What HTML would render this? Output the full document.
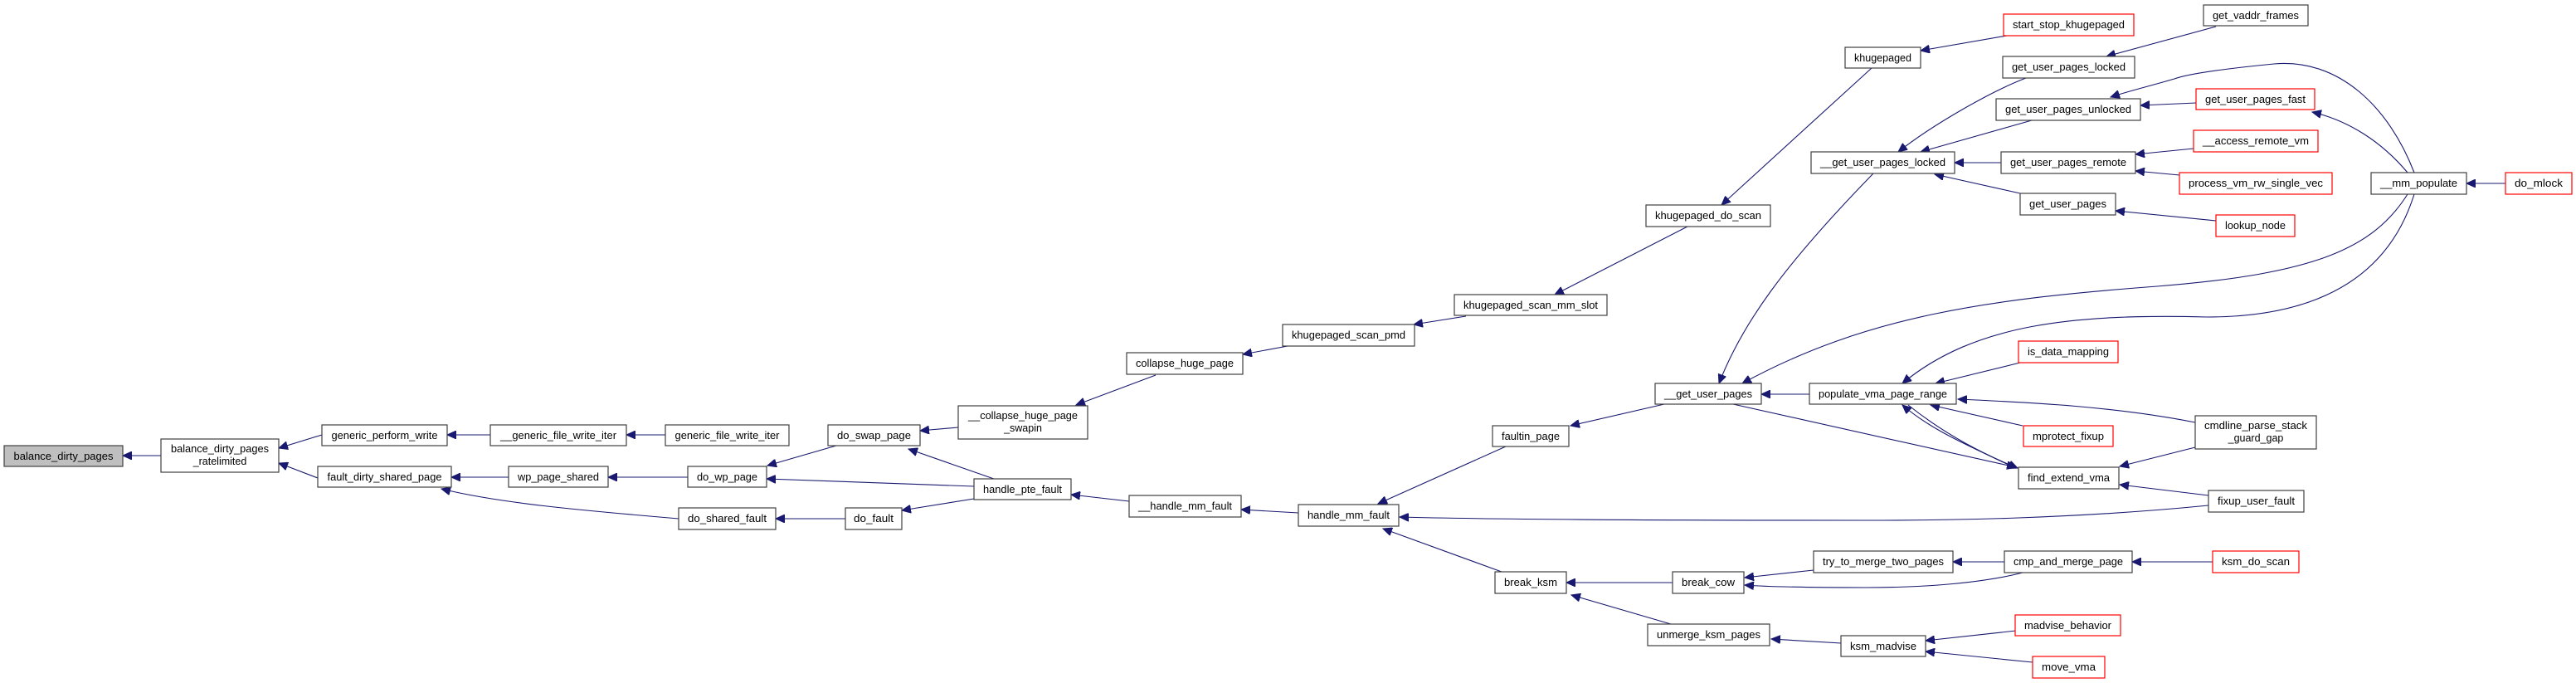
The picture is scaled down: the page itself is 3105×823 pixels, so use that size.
<!DOCTYPE html>
<html><head><meta charset="utf-8"><style>
html,body{margin:0;padding:0;background:#fff;}
svg{display:block;}
text{font-family:"Liberation Sans",Arial,sans-serif;font-size:12.5px;fill:#000;}
.n{fill:#fff;stroke:#404040;stroke-width:1.2;}
.r{fill:#fff;stroke:#ff0000;stroke-width:1.2;}
.g{fill:#bfbfbf;stroke:#404040;stroke-width:1.2;}
.e{fill:none;stroke:#191970;stroke-width:1.1;}
</style></head><body>
<svg width="3105" height="823" viewBox="0 0 3105 823" xmlns="http://www.w3.org/2000/svg">
<defs>
<marker id="a" markerUnits="userSpaceOnUse" markerWidth="12" markerHeight="10" refX="11" refY="5" orient="auto">
<path d="M0,0 L11,5 L0,10 Z" fill="#191970" stroke="#191970"/>
</marker>
</defs>
<g class="edges">
<path class="e" marker-end="url(#a)" d="M194,549 L148,549"/>
<path class="e" marker-end="url(#a)" d="M388,524 L336,540"/>
<path class="e" marker-end="url(#a)" d="M383,576 L336,558"/>
<path class="e" marker-end="url(#a)" d="M591,524 L539,524"/>
<path class="e" marker-end="url(#a)" d="M802,524 L755,524"/>
<path class="e" marker-end="url(#a)" d="M613,575 L544,575"/>
<path class="e" marker-end="url(#a)" d="M818,625 C700,615 600,606 532,589"/>
<path class="e" marker-end="url(#a)" d="M829,575 L733,575"/>
<path class="e" marker-end="url(#a)" d="M1008,537 L925,561"/>
<path class="e" marker-end="url(#a)" d="M1174,586 L924,577"/>
<path class="e" marker-end="url(#a)" d="M1198,577 L1095,541"/>
<path class="e" marker-end="url(#a)" d="M1174,601 L1087,615"/>
<path class="e" marker-end="url(#a)" d="M1019,625 L935,625"/>
<path class="e" marker-end="url(#a)" d="M1155,515 L1109,519"/>
<path class="e" marker-end="url(#a)" d="M1393,452 L1297,488"/>
<path class="e" marker-end="url(#a)" d="M1361,604 L1291,596"/>
<path class="e" marker-end="url(#a)" d="M1565,618 L1496,614"/>
<path class="e" marker-end="url(#a)" d="M1552,417 L1498,427"/>
<path class="e" marker-end="url(#a)" d="M1767,381 L1704,391"/>
<path class="e" marker-end="url(#a)" d="M2034,273 L1874,355"/>
<path class="e" marker-end="url(#a)" d="M2256,82 L2075,247"/>
<path class="e" marker-end="url(#a)" d="M2419,43 L2315,61"/>
<path class="e" marker-end="url(#a)" d="M2671,32 L2539,68"/>
<path class="e" marker-end="url(#a)" d="M2442,94 C2400,110 2330,150 2288,183"/>
<path class="e" marker-end="url(#a)" d="M2449,145 L2315,183"/>
<path class="e" marker-end="url(#a)" d="M2412,196 L2356,196"/>
<path class="e" marker-end="url(#a)" d="M2435,233 L2332,210"/>
<path class="e" marker-end="url(#a)" d="M2647,124 L2580,127"/>
<path class="e" marker-end="url(#a)" d="M2644,179 L2574,186"/>
<path class="e" marker-end="url(#a)" d="M2627,211 L2574,206"/>
<path class="e" marker-end="url(#a)" d="M2671,266 L2550,254"/>
<path class="e" marker-end="url(#a)" d="M3020,221 L2973,221"/>
<path class="e" marker-end="url(#a)" d="M2910,208 C2880,130 2820,70 2741,77 C2690,82 2640,88 2621,95 C2590,104 2565,110 2544,117"/>
<path class="e" marker-end="url(#a)" d="M2902,208 C2870,170 2830,145 2787,135"/>
<path class="e" marker-end="url(#a)" d="M2902,234 C2860,300 2790,330 2600,345 C2400,360 2250,380 2100,462"/>
<path class="e" marker-end="url(#a)" d="M2910,234 C2880,330 2800,382 2660,382 C2500,378 2380,390 2293,462"/>
<path class="e" marker-end="url(#a)" d="M2006,487 L1893,513"/>
<path class="e" marker-end="url(#a)" d="M2181,475 L2123,475"/>
<path class="e" marker-end="url(#a)" d="M2258,209 C2150,320 2100,390 2072,462"/>
<path class="e" marker-end="url(#a)" d="M2435,437 L2333,462"/>
<path class="e" marker-end="url(#a)" d="M2438,513 L2327,488"/>
<path class="e" marker-end="url(#a)" d="M2646,509 C2550,490 2450,485 2360,481"/>
<path class="e" marker-end="url(#a)" d="M2425,562 C2380,540 2330,520 2293,488"/>
<path class="e" marker-end="url(#a)" d="M2300,488 C2340,520 2385,545 2432,564"/>
<path class="e" marker-end="url(#a)" d="M2089,487 L2430,563"/>
<path class="e" marker-end="url(#a)" d="M2646,539 L2555,562"/>
<path class="e" marker-end="url(#a)" d="M2662,597 L2555,584"/>
<path class="e" marker-end="url(#a)" d="M2662,609 C2500,625 2350,627 2250,627 C2000,627 1800,626 1687,623"/>
<path class="e" marker-end="url(#a)" d="M1815,538 L1661,607"/>
<path class="e" marker-end="url(#a)" d="M1810,689 L1667,637"/>
<path class="e" marker-end="url(#a)" d="M2016,702 L1888,702"/>
<path class="e" marker-end="url(#a)" d="M2014,752 L1894,717"/>
<path class="e" marker-end="url(#a)" d="M2186,687 L2103,696"/>
<path class="e" marker-end="url(#a)" d="M2438,690 C2380,705 2300,708 2250,708 C2180,708 2130,707 2103,705"/>
<path class="e" marker-end="url(#a)" d="M2416,677 L2354,677"/>
<path class="e" marker-end="url(#a)" d="M2667,677 L2570,677"/>
<path class="e" marker-end="url(#a)" d="M2219,775 L2135,770"/>
<path class="e" marker-end="url(#a)" d="M2430,760 L2321,772"/>
<path class="e" marker-end="url(#a)" d="M2450,798 L2321,785"/>
</g>
<g class="nodes" text-anchor="middle">
<rect class="g" x="5" y="537" width="143" height="25"/><text x="76.5" y="554" textLength="120" lengthAdjust="spacingAndGlyphs">balance_dirty_pages</text>
<rect class="n" x="194" y="529" width="142" height="40"/><text x="265" y="545" textLength="118" lengthAdjust="spacingAndGlyphs">balance_dirty_pages</text><text x="265" y="560">_ratelimited</text>
<rect class="n" x="388" y="512" width="151" height="25"/><text x="463.5" y="529" textLength="128" lengthAdjust="spacingAndGlyphs">generic_perform_write</text>
<rect class="n" x="383" y="562" width="161" height="25"/><text x="463.5" y="579" textLength="138" lengthAdjust="spacingAndGlyphs">fault_dirty_shared_page</text>
<rect class="n" x="591" y="512" width="164" height="25"/><text x="673" y="529" textLength="140" lengthAdjust="spacingAndGlyphs">__generic_file_write_iter</text>
<rect class="n" x="613" y="562" width="120" height="25"/><text x="673" y="579" textLength="98" lengthAdjust="spacingAndGlyphs">wp_page_shared</text>
<rect class="n" x="802" y="512" width="149" height="25"/><text x="876.5" y="529" textLength="126" lengthAdjust="spacingAndGlyphs">generic_file_write_iter</text>
<rect class="n" x="829" y="562" width="95" height="25"/><text x="876.5" y="579" textLength="73" lengthAdjust="spacingAndGlyphs">do_wp_page</text>
<rect class="n" x="818" y="612" width="117" height="26"/><text x="876.5" y="629" textLength="95" lengthAdjust="spacingAndGlyphs">do_shared_fault</text>
<rect class="n" x="998" y="512" width="111" height="25"/><text x="1053.5" y="529" textLength="89" lengthAdjust="spacingAndGlyphs">do_swap_page</text>
<rect class="n" x="1019" y="612" width="68" height="26"/><text x="1053" y="629" textLength="48" lengthAdjust="spacingAndGlyphs">do_fault</text>
<rect class="n" x="1155" y="489" width="156" height="40"/><text x="1233" y="505" textLength="132" lengthAdjust="spacingAndGlyphs">__collapse_huge_page</text><text x="1233" y="520">_swapin</text>
<rect class="n" x="1174" y="577" width="117" height="25"/><text x="1232.5" y="594" textLength="95" lengthAdjust="spacingAndGlyphs">handle_pte_fault</text>
<rect class="n" x="1358" y="425" width="140" height="26"/><text x="1428" y="442" textLength="118" lengthAdjust="spacingAndGlyphs">collapse_huge_page</text>
<rect class="n" x="1361" y="597" width="135" height="26"/><text x="1428.5" y="614" textLength="113" lengthAdjust="spacingAndGlyphs">__handle_mm_fault</text>
<rect class="n" x="1546" y="391" width="159" height="26"/><text x="1625.5" y="408" textLength="137" lengthAdjust="spacingAndGlyphs">khugepaged_scan_pmd</text>
<rect class="n" x="1565" y="608" width="121" height="26"/><text x="1625.5" y="625" textLength="99" lengthAdjust="spacingAndGlyphs">handle_mm_fault</text>
<rect class="n" x="1753" y="355" width="184" height="25"/><text x="1845" y="372" textLength="162" lengthAdjust="spacingAndGlyphs">khugepaged_scan_mm_slot</text>
<rect class="n" x="1799" y="513" width="92" height="25"/><text x="1845" y="530" textLength="70" lengthAdjust="spacingAndGlyphs">faultin_page</text>
<rect class="n" x="1802" y="689" width="86" height="26"/><text x="1845" y="706" textLength="64" lengthAdjust="spacingAndGlyphs">break_ksm</text>
<rect class="n" x="1984" y="247" width="150" height="26"/><text x="2059" y="264" textLength="128" lengthAdjust="spacingAndGlyphs">khugepaged_do_scan</text>
<rect class="n" x="1995" y="462" width="128" height="25"/><text x="2059" y="479" textLength="106" lengthAdjust="spacingAndGlyphs">__get_user_pages</text>
<rect class="n" x="2016" y="689" width="86" height="26"/><text x="2059" y="706" textLength="64" lengthAdjust="spacingAndGlyphs">break_cow</text>
<rect class="n" x="1986" y="752" width="147" height="26"/><text x="2059.5" y="769" textLength="125" lengthAdjust="spacingAndGlyphs">unmerge_ksm_pages</text>
<rect class="n" x="2224" y="57" width="91" height="25"/><text x="2269.5" y="74" textLength="69" lengthAdjust="spacingAndGlyphs">khugepaged</text>
<rect class="n" x="2183" y="183" width="173" height="26"/><text x="2269.5" y="200" textLength="151" lengthAdjust="spacingAndGlyphs">__get_user_pages_locked</text>
<rect class="n" x="2181" y="462" width="177" height="25"/><text x="2269.5" y="479" textLength="155" lengthAdjust="spacingAndGlyphs">populate_vma_page_range</text>
<rect class="n" x="2186" y="664" width="168" height="26"/><text x="2270" y="681" textLength="146" lengthAdjust="spacingAndGlyphs">try_to_merge_two_pages</text>
<rect class="n" x="2219" y="766" width="102" height="25"/><text x="2270" y="783" textLength="80" lengthAdjust="spacingAndGlyphs">ksm_madvise</text>
<rect class="r" x="2415" y="17" width="157" height="26"/><text x="2493.5" y="34" textLength="135" lengthAdjust="spacingAndGlyphs">start_stop_khugepaged</text>
<rect class="n" x="2414" y="68" width="159" height="26"/><text x="2493.5" y="85" textLength="137" lengthAdjust="spacingAndGlyphs">get_user_pages_locked</text>
<rect class="n" x="2406" y="119" width="174" height="26"/><text x="2493" y="136" textLength="152" lengthAdjust="spacingAndGlyphs">get_user_pages_unlocked</text>
<rect class="n" x="2412" y="183" width="162" height="26"/><text x="2493" y="200" textLength="140" lengthAdjust="spacingAndGlyphs">get_user_pages_remote</text>
<rect class="n" x="2435" y="233" width="115" height="26"/><text x="2492.5" y="250" textLength="93" lengthAdjust="spacingAndGlyphs">get_user_pages</text>
<rect class="r" x="2433" y="411" width="120" height="26"/><text x="2493" y="428" textLength="98" lengthAdjust="spacingAndGlyphs">is_data_mapping</text>
<rect class="r" x="2439" y="513" width="108" height="25"/><text x="2493" y="530" textLength="86" lengthAdjust="spacingAndGlyphs">mprotect_fixup</text>
<rect class="n" x="2433" y="563" width="121" height="26"/><text x="2493.5" y="580" textLength="99" lengthAdjust="spacingAndGlyphs">find_extend_vma</text>
<rect class="n" x="2416" y="664" width="154" height="26"/><text x="2493" y="681" textLength="132" lengthAdjust="spacingAndGlyphs">cmp_and_merge_page</text>
<rect class="r" x="2429" y="741" width="127" height="25"/><text x="2492.5" y="758" textLength="105" lengthAdjust="spacingAndGlyphs">madvise_behavior</text>
<rect class="r" x="2450" y="791" width="87" height="26"/><text x="2493.5" y="808" textLength="65" lengthAdjust="spacingAndGlyphs">move_vma</text>
<rect class="n" x="2656" y="6" width="126" height="25"/><text x="2719" y="23" textLength="104" lengthAdjust="spacingAndGlyphs">get_vaddr_frames</text>
<rect class="r" x="2647" y="107" width="143" height="25"/><text x="2718.5" y="124" textLength="121" lengthAdjust="spacingAndGlyphs">get_user_pages_fast</text>
<rect class="r" x="2644" y="157" width="150" height="26"/><text x="2719" y="174" textLength="128" lengthAdjust="spacingAndGlyphs">__access_remote_vm</text>
<rect class="r" x="2627" y="208" width="184" height="26"/><text x="2719" y="225" textLength="162" lengthAdjust="spacingAndGlyphs">process_vm_rw_single_vec</text>
<rect class="r" x="2671" y="259" width="95" height="26"/><text x="2718.5" y="276" textLength="73" lengthAdjust="spacingAndGlyphs">lookup_node</text>
<rect class="n" x="2646" y="501" width="146" height="40"/><text x="2719" y="517" textLength="124" lengthAdjust="spacingAndGlyphs">cmdline_parse_stack</text><text x="2719" y="532">_guard_gap</text>
<rect class="n" x="2662" y="591" width="115" height="26"/><text x="2719.5" y="608" textLength="93" lengthAdjust="spacingAndGlyphs">fixup_user_fault</text>
<rect class="r" x="2667" y="664" width="104" height="26"/><text x="2719" y="681" textLength="82" lengthAdjust="spacingAndGlyphs">ksm_do_scan</text>
<rect class="n" x="2858" y="208" width="115" height="26"/><text x="2915.5" y="225" textLength="93" lengthAdjust="spacingAndGlyphs">__mm_populate</text>
<rect class="r" x="3020" y="208" width="80" height="26"/><text x="3060" y="225" textLength="58" lengthAdjust="spacingAndGlyphs">do_mlock</text>
</g>
</svg>
</body></html>
